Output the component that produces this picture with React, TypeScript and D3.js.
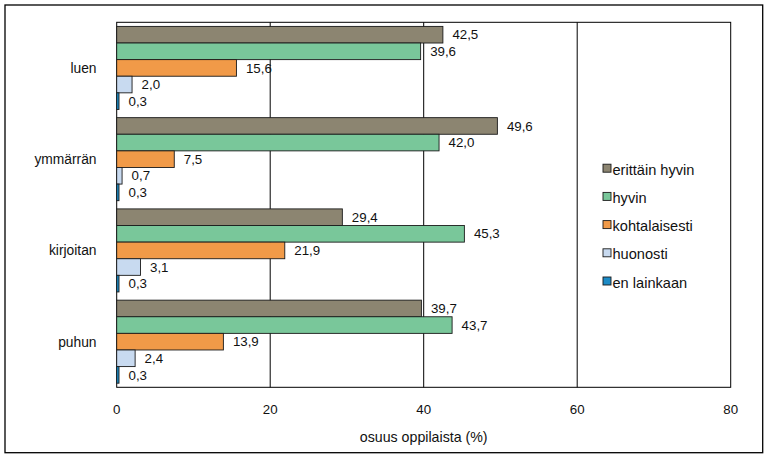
import React from "react";
import * as d3 from "d3";

const categories = ["luen", "ymmärrän", "kirjoitan", "puhun"];
const seriesNames = ["erittäin hyvin", "hyvin", "kohtalaisesti", "huonosti", "en lainkaan"];
const erittainHyvin = [42.5, 49.6, 29.4, 39.7];
const hyvin = [39.6, 42.0, 45.3, 43.7];
const kohtalaisesti = [15.6, 7.5, 21.9, 13.9];
const huonosti = [2.0, 0.7, 3.1, 2.4];
const enLainkaan = [0.3, 0.3, 0.3, 0.3];
const seriesValues = [erittainHyvin, hyvin, kohtalaisesti, huonosti, enLainkaan];
const seriesColors = ["#8C8571", "#79C79A", "#F19A48", "#C8DAF0", "#1C8BC6"];
const xTicks = [0, 20, 40, 60, 80];
const xTitle = "osuus oppilaista (%)";

const W = 768;
const H = 460;
const plot = { left: 116.7, right: 730.7, top: 22.3, bottom: 387.3 };
const FONT = "'Liberation Sans', Arial, sans-serif";

export default function App() {
  const x = d3.scaleLinear().domain([0, 80]).range([plot.left, plot.right]);
  const y = d3
    .scaleBand<string>()
    .domain(categories)
    .range([plot.top, plot.bottom])
    .paddingInner(0.09)
    .paddingOuter(0.045);
  const inner = d3
    .scaleBand<string>()
    .domain(seriesNames)
    .range([0, y.bandwidth()])
    .padding(0);
  const fmt = (v: number) => d3.format(".1f")(v).replace(".", ",");

  const legendX = 603;
  const legendY0 = 168.2;
  const legendStep = 28.2;

  return (
    <div style={{ position: "absolute", left: 0, top: 0 }}>
      <svg width={W} height={H} style={{ display: "block", background: "#fff" }}>
        <rect x={5} y={5} width={757.7} height={447.7} fill="#fff" stroke="#000" strokeWidth={1.3} />
        <rect
          x={plot.left}
          y={plot.top}
          width={plot.right - plot.left}
          height={plot.bottom - plot.top}
          fill="#fff"
          stroke="#000"
          strokeWidth={1}
        />
        {xTicks.slice(1, -1).map((t) => (
          <line key={t} x1={x(t)} x2={x(t)} y1={plot.top} y2={plot.bottom} stroke="#000" strokeWidth={1} />
        ))}
        {categories.map((c, ci) => (
          <g key={c}>
            {seriesNames.map((s, si) => {
              const v = seriesValues[si][ci];
              const by = (y(c) as number) + (inner(s) as number);
              const bh = inner.bandwidth();
              return (
                <g key={s}>
                  <rect
                    x={x(0)}
                    y={by}
                    width={x(v) - x(0)}
                    height={bh}
                    fill={seriesColors[si]}
                    stroke="#1a1a1a"
                    strokeWidth={0.9}
                  />
                  <text
                    x={x(v) + 9.5}
                    y={by + bh / 2}
                    dy="0.35em"
                    fontFamily={FONT}
                    fontSize={13.3}
                    fill="#111"
                  >
                    {fmt(v)}
                  </text>
                </g>
              );
            })}
            <text
              x={96.5}
              y={(y(c) as number) + y.bandwidth() / 2}
              dy="0.35em"
              textAnchor="end"
              fontFamily={FONT}
              fontSize={13.8}
              fill="#111"
            >
              {c}
            </text>
          </g>
        ))}
        {xTicks.map((t) => (
          <text
            key={t}
            x={x(t)}
            y={409}
            dy="0.35em"
            textAnchor="middle"
            fontFamily={FONT}
            fontSize={13.3}
            fill="#111"
          >
            {t}
          </text>
        ))}
        <text
          x={(plot.left + plot.right) / 2}
          y={437}
          dy="0.35em"
          textAnchor="middle"
          fontFamily={FONT}
          fontSize={14.2}
          fill="#111"
        >
          {xTitle}
        </text>
        {seriesNames.map((s, i) => (
          <g key={s}>
            <rect
              x={legendX}
              y={legendY0 + i * legendStep - 4}
              width={8}
              height={8}
              fill={seriesColors[i]}
              stroke="#1a1a1a"
              strokeWidth={0.9}
            />
            <text
              x={legendX + 9.5}
              y={legendY0 + i * legendStep + 1.5}
              dy="0.35em"
              fontFamily={FONT}
              fontSize={14.6}
              fill="#111"
            >
              {s}
            </text>
          </g>
        ))}
      </svg>
    </div>
  );
}
